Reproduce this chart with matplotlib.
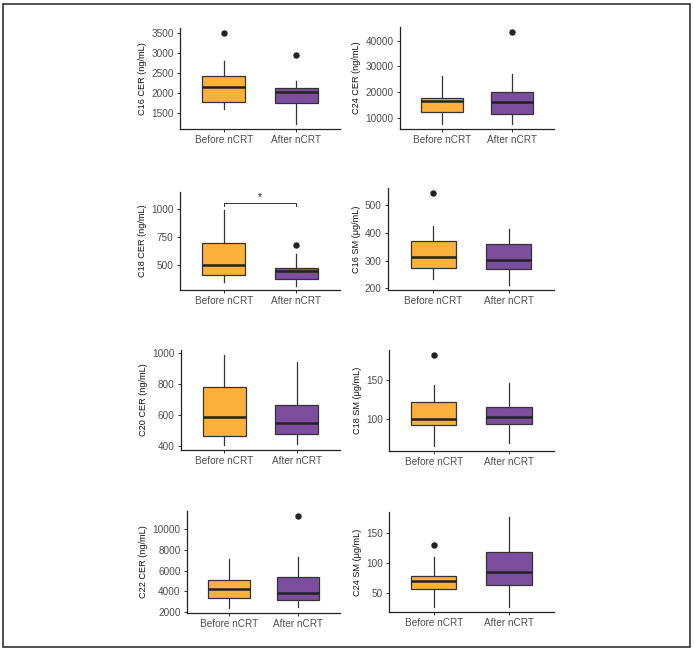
import numpy as np
import matplotlib
matplotlib.use("Agg")
import matplotlib.pyplot as plt
from matplotlib.patches import Rectangle

plt.rcParams['font.family'] = ['Liberation Sans', 'DejaVu Sans']

groups = ["Before nCRT", "After nCRT"]
colors = ["#FBB13C", "#7E4E9E"]

# per panel: (label, [lo whisker, q1, median, q3, hi whisker] x2, outliers x2)
labels = ["C16 CER (ng/mL)", "C24 CER (ng/mL)",
          "C18 CER (ng/mL)", "C16 SM (\u03bcg/mL)",
          "C20 CER (ng/mL)", "C18 SM (\u03bcg/mL)",
          "C22 CER (ng/mL)", "C24 SM (\u03bcg/mL)"]

stats_before = [
    [1615, 1778, 2146, 2433, 2810],
    [7550, 12340, 16700, 17790, 26360],
    [348, 403, 500, 697, 994],
    [235, 274, 312, 369, 424],
    [402, 462, 586, 784, 992],
    [64, 92, 99, 121, 144],
    [2360, 3330, 4250, 5100, 7130],
    [26, 56, 69.5, 78, 110],
]
stats_after = [
    [1230, 1763, 2023, 2131, 2294],
    [7550, 11710, 16100, 20130, 27000],
    [312, 373, 444, 473, 600],
    [211, 271, 302, 361, 412],
    [411, 478, 546, 665, 943],
    [69, 93, 102, 115.5, 146.5],
    [2455, 3160, 3810, 5420, 7300],
    [26, 64, 84.7, 118, 177],
]
out_before = [[3500], [], [], [544], [], [183], [], [130]]
out_after = [[2957], [43500], [682], [], [], [], [11320], []]

yticks = [[1500, 2000, 2500, 3000, 3500],
          [10000, 20000, 30000, 40000],
          [500, 750, 1000],
          [200, 300, 400, 500],
          [400, 600, 800, 1000],
          [100, 150],
          [2000, 4000, 6000, 8000, 10000],
          [50, 100, 150]]

# significance bracket on C18 CER panel
sig_panel = 2
sig_y = 1054
sig_tip = 1030
sig_text_top = 1117

# axes boxes in pixels: left, top, right, bottom
W, H = 694, 651
boxes = [(180, 28, 340, 129), (400, 27, 554, 129),
         (180, 192, 340, 290), (388, 188, 554, 290),
         (181, 350, 340, 450), (389, 350, 554, 451),
         (187, 511, 340, 613), (389, 512, 554, 612)]

fig = plt.figure(figsize=(W / 100, H / 100), dpi=100)
fig.patches.append(Rectangle((3 / W, 4 / H), 687 / W, 643 / H, transform=fig.transFigure,
                             fill=False, edgecolor="#222222", linewidth=1.1))

for i in range(8):
    l, t, r, b = boxes[i]
    ax = fig.add_axes([l / W, 1 - b / H, (r - l) / W, (b - t) / H])
    bxp = []
    for s, o in [(stats_before[i], out_before[i]), (stats_after[i], out_after[i])]:
        bxp.append(dict(whislo=s[0], q1=s[1], med=s[2], q3=s[3], whishi=s[4], fliers=o))
    res = ax.bxp(bxp, positions=[0, 1], widths=0.6, patch_artist=True, showcaps=False,
                 boxprops=dict(edgecolor="#333333", linewidth=0.9),
                 medianprops=dict(color="#222222", linewidth=1.8),
                 whiskerprops=dict(color="#333333", linewidth=0.9),
                 flierprops=dict(marker="o", markerfacecolor="#222222", markeredgecolor="#222222",
                                 markersize=3.6))
    for patch, c in zip(res["boxes"], colors):
        patch.set_facecolor(c)

    vals = stats_before[i] + stats_after[i] + out_before[i] + out_after[i]
    lo, hi = min(vals), max(vals)
    if i == sig_panel:
        hi = sig_text_top
        ax.plot([0, 0, 1, 1], [sig_tip, sig_y, sig_y, sig_tip], color="#333333", linewidth=0.7)
        ax.text(0.5, sig_y + 8, "*", ha="center", va="bottom", fontsize=7.5, color="#222222")
    pad = (hi - lo) * 0.05
    ax.set_ylim(lo - pad, hi + pad)
    ax.set_xlim(-0.6, 1.6)
    ax.set_xticks([0, 1])
    ax.set_xticklabels(groups)
    ax.set_yticks(yticks[i])
    ax.set_ylabel(labels[i], fontsize=6.6, labelpad=3, color="#111111")
    for sp in ["top", "right"]:
        ax.spines[sp].set_visible(False)
    for sp in ["left", "bottom"]:
        ax.spines[sp].set_linewidth(0.9)
        ax.spines[sp].set_color("#222222")
    ax.tick_params(labelsize=7.2, labelcolor="#4D4D4D", length=2.5, width=0.7,
                   color="#333333", pad=2)

fig.savefig("out.png", dpi=100)
